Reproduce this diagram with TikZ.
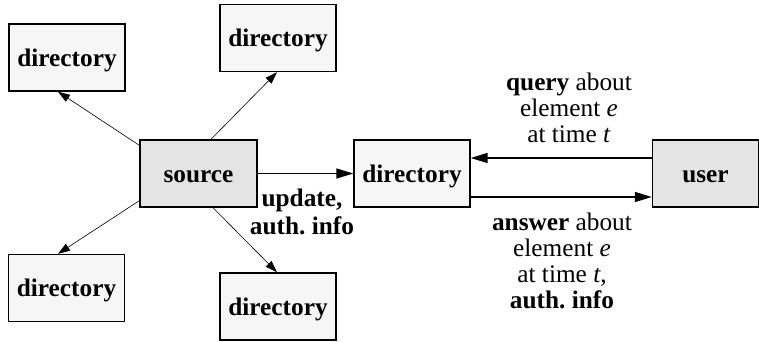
\documentclass[tikz,border=0pt]{standalone}
\usepackage{fontspec}
\setmainfont{Liberation Serif}
\usetikzlibrary{arrows.meta}
\frenchspacing
\definecolor{dirfill}{HTML}{F6F6F6}
\definecolor{agentfill}{HTML}{E4E4E4}
\tikzset{
  box/.style={draw=black, line width=1.4pt, inner sep=0pt, minimum width=116pt,
    minimum height=67pt, text height=23pt, text depth=5.5pt,
    font=\fontsize{25.3}{26}\selectfont\bfseries},
  dirbox/.style={box, fill=dirfill},
  agentbox/.style={box, fill=agentfill},
  thinarrow/.style={line width=0.6pt, -{Triangle[length=12pt,width=8pt]}},
  thickarrow/.style={line width=1.5pt, -{Triangle[length=17pt,width=10pt]}},
  msg/.style={align=center, inner sep=0pt, font=\fontsize{25.3}{26}\selectfont}
}
\begin{document}
\begin{tikzpicture}[x=1pt, y=-1pt]
\useasboundingbox (0,0) rectangle (759,341);
% directories around the source
\node[dirbox] (d1) at (67,57.5) {directory};
\node[dirbox] (d2) at (278,38) {directory};
\node[dirbox] (d3) at (66.5,288) {directory};
\node[dirbox] (d4) at (278,306.5) {directory};
% source, answering directory and user
\node[agentbox, minimum width=117pt] (src) at (198.5,173.5) {source};
\node[dirbox] (dm) at (412,173.5) {directory};
\node[agentbox, minimum width=106pt] (user) at (705.5,173.5) {user};
% replication to the other directories
\draw[thinarrow] ([yshift=-6pt]src.north west) -- ([xshift=-9pt]d1.south);
\draw[thinarrow] ([xshift=12.5pt]src.north) -- ([xshift=-1pt]d2.south);
\draw[thinarrow] ([yshift=7pt]src.south west) -- ([xshift=-8.5pt]d3.north);
\draw[thinarrow] ([xshift=14.5pt]src.south) -- ([xshift=-1pt]d4.north);
% update from the source
\draw[thickarrow] (src.east) -- (dm.west);
\node[msg, font=\fontsize{25.3}{28}\selectfont\bfseries] (upd) at (302,212) {update,\\auth. info};
% query and answer
\draw[thickarrow] ([yshift=15.5pt]user.west) -- ([yshift=15.5pt]dm.east);
\draw[thickarrow] ([yshift=-23.5pt]dm.east) -- ([yshift=-23.5pt]user.west);
\node[msg] (qry) at (569,108) {\textbf{query} about\\element \textit{e}\\at time \textit{t}};
\node[msg] (ans) at (562,261) {\textbf{answer} about\\element \textit{e}\\at time \textit{t},\\\textbf{auth. info}};
\end{tikzpicture}
\end{document}
